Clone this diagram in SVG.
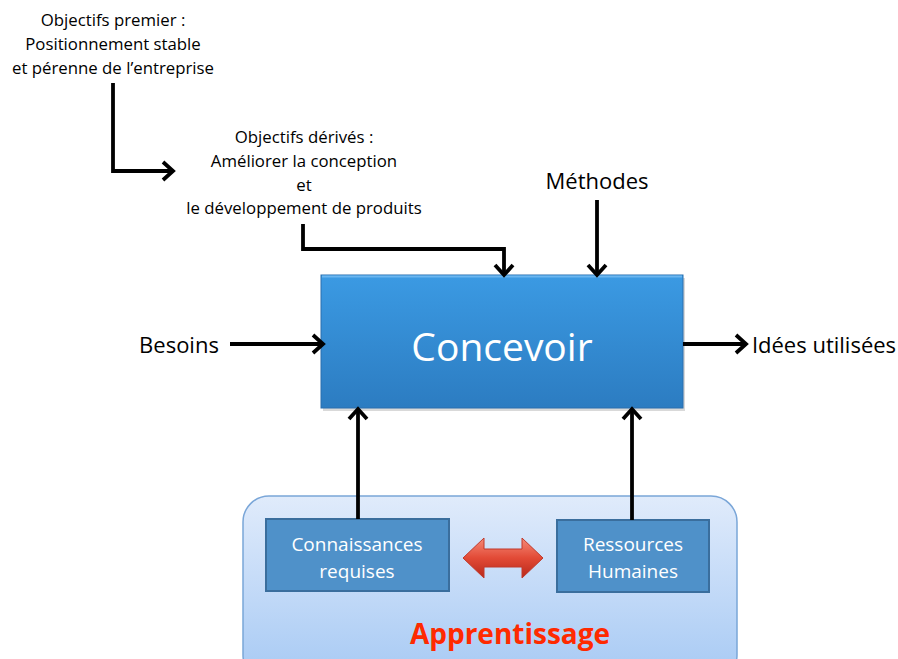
<svg xmlns="http://www.w3.org/2000/svg" width="898" height="659" viewBox="0 0 898 659">
<style>
.t{font-family:"Open Sans","Liberation Sans",sans-serif;fill:#000;text-anchor:middle}
.s{font-size:16.8px}
.m{font-size:22px}
.w{fill:#fff;font-family:"Open Sans","Liberation Sans",sans-serif;text-anchor:middle}
.c{fill:none;stroke:#000;stroke-width:3.8;stroke-linejoin:miter}
.h{fill:none;stroke:#000;stroke-width:3.8;stroke-linecap:butt;stroke-linejoin:miter}
</style>
<defs>
<linearGradient id="gc" x1="0" y1="0" x2="0" y2="1">
<stop offset="0" stop-color="#3b9ae3"/>
<stop offset="1" stop-color="#2c7cc1"/>
</linearGradient>
<linearGradient id="ga" x1="0" y1="0" x2="0" y2="1">
<stop offset="0" stop-color="#e0ebfb"/>
<stop offset="1" stop-color="#a6c9f4"/>
</linearGradient>
<linearGradient id="gr" x1="0" y1="0" x2="0" y2="1">
<stop offset="0" stop-color="#f58a78"/>
<stop offset="0.5" stop-color="#e24a36"/>
<stop offset="1" stop-color="#b8281a"/>
</linearGradient>
</defs>

<g id="apprentissage">
<rect x="243" y="496" width="494" height="185" rx="26" fill="url(#ga)" stroke="#7aa6d8" stroke-width="1.5"/>
<text x="510" y="644" font-family="Open Sans,Liberation Sans,sans-serif" font-weight="bold" font-size="28" fill="#ff2a00" text-anchor="middle">Apprentissage</text>
</g>

<g id="concevoir">
<rect x="323" y="278" width="362" height="133" fill="#000" opacity="0.15"/>
<rect x="321" y="275" width="362" height="133" fill="url(#gc)" stroke="#2a6fae" stroke-width="1"/>
<line x1="322" y1="276.5" x2="682" y2="276.5" stroke="#6bb6f0" stroke-width="2"/>
<text class="w" x="502" y="361" font-size="39">Concevoir</text>
</g>

<g id="connaissances">
<rect x="266" y="519" width="183" height="72" fill="#4f91c9" stroke="#3a6e9d" stroke-width="2"/>
<text class="w" x="357" y="551" font-size="19">Connaissances</text>
<text class="w" x="357" y="578" font-size="19">requises</text>
</g>

<g id="ressources">
<rect x="557" y="520" width="152" height="72" fill="#4f91c9" stroke="#3a6e9d" stroke-width="2"/>
<text class="w" x="633" y="551" font-size="19">Ressources</text>
<text class="w" x="633" y="578" font-size="19">Humaines</text>
</g>

<g id="objectifs-premier">
<text class="t s" x="113" y="26">Objectifs premier :</text>
<text class="t s" x="113" y="50">Positionnement stable</text>
<text class="t s" x="113" y="74">et pérenne de l’entreprise</text>
</g>

<g id="objectifs-derives">
<text class="t s" x="304" y="143">Objectifs dérivés :</text>
<text class="t s" x="304" y="167">Améliorer la conception</text>
<text class="t s" x="304" y="191">et</text>
<text class="t s" x="304" y="214">le développement de produits</text>
</g>

<g id="methodes"><text class="t m" x="597" y="189">Méthodes</text></g>
<g id="besoins"><text class="t m" x="179" y="353">Besoins</text></g>
<g id="idees"><text class="t m" x="824" y="353">Idées utilisées</text></g>

<g id="connectors">
<polyline class="c" points="113,83 113,171 173,171"/>
<polyline class="h" points="163,162 173,171 163,180"/>
<polyline class="c" points="303,224 303,249 504,249 504,275"/>
<polyline class="h" points="495,265 504,275 513,265"/>
<line class="c" x1="597" y1="200" x2="597" y2="275"/>
<polyline class="h" points="588,265 597,275 606,265"/>
<line class="c" x1="230" y1="344" x2="323" y2="344"/>
<polyline class="h" points="313,335 323,344 313,353"/>
<line class="c" x1="683" y1="344" x2="746" y2="344"/>
<polyline class="h" points="736,335 746,344 736,353"/>
<line class="c" x1="358" y1="519" x2="358" y2="409"/>
<polyline class="h" points="349,419 358,409 367,419"/>
<line class="c" x1="632" y1="520" x2="632" y2="409"/>
<polyline class="h" points="623,419 632,409 641,419"/>
<polygon points="463,558 484,538 484,549 522,549 522,538 543,558 522,578 522,567 484,567 484,578" fill="url(#gr)" stroke="#c0392b" stroke-width="1"/>
</g>
</svg>
